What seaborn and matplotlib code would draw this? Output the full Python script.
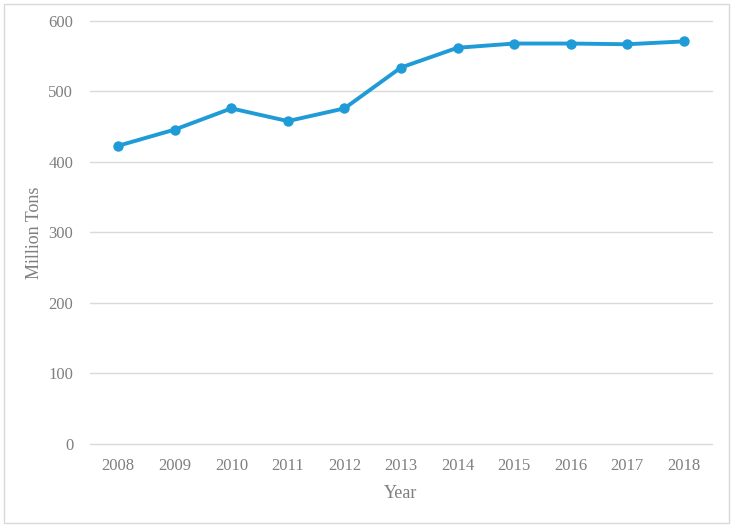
import pandas as pd
import matplotlib.pyplot as plt
import seaborn as sns
from matplotlib.patches import Rectangle

# Data
years = ['2008', '2009', '2010', '2011', '2012', '2013', '2014', '2015', '2016', '2017', '2018']
tons = [423, 446, 476, 458, 476, 534, 562, 568, 568, 567, 571]

df = pd.DataFrame({'Year': years, 'Million Tons': tons})

sns.set_theme(style="white")
plt.rcParams['font.family'] = ['Liberation Serif', 'DejaVu Serif']

fig = plt.figure(figsize=(7.35, 5.27), dpi=100)
ax = fig.add_axes([0.1224, 0.1575, 0.8463, 0.8027])

sns.lineplot(data=df, x='Year', y='Million Tons', ax=ax, color='#1F9BD7',
             linewidth=2.8, marker='o', markersize=7.5, markeredgewidth=0, sort=False)

ax.set_xlim(-0.5, len(years) - 0.5)
ax.set_ylim(0, 600)
ax.set_yticks(range(0, 601, 100))
ax.yaxis.grid(True, color='#d9d9d9', linewidth=1)
for gl in ax.get_ygridlines():
    gl.set_clip_on(False)
ax.set_axisbelow(True)
for s in ax.spines.values():
    s.set_visible(False)

txt = '#7f7f7f'
ax.tick_params(axis='both', length=0, labelsize=12, labelcolor=txt)
ax.tick_params(axis='x', pad=10)
ax.tick_params(axis='y', pad=12)
ax.set_xlabel('Year', fontsize=13, color=txt, labelpad=8)
ax.set_ylabel('Million Tons', fontsize=13, color=txt, labelpad=4)

# light border round the figure
fig.patches.append(Rectangle((0.006, 0.007), 0.986, 0.985, transform=fig.transFigure,
                             fill=False, edgecolor='#d9d9d9', linewidth=1))

fig.savefig('out.png', dpi=100, facecolor='white')
